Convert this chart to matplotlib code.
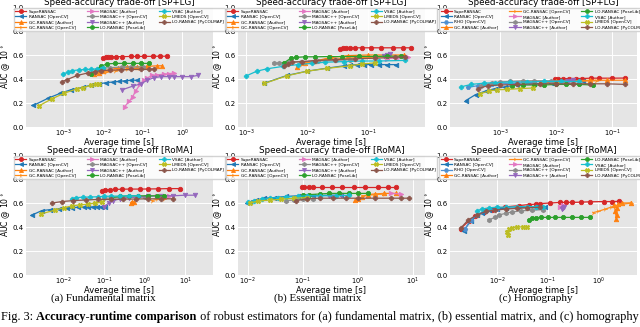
import matplotlib

matplotlib.use("Agg")
import matplotlib.pyplot as plt

# ---- data: per panel, method -> (time [s], AUC @ 10 deg) ----
fund_splg = {
    "SupeRANSAC": ([0.0100, 0.0114, 0.013, 0.0156, 0.0205, 0.030, 0.049, 0.073, 0.11, 0.18, 0.27, 0.40],
                   [0.578, 0.582, 0.584, 0.585, 0.586, 0.587, 0.588, 0.588, 0.589, 0.589, 0.59, 0.59]),
    "RANSAC [OpenCV]": ([0.00017, 0.0004, 0.0008, 0.0015, 0.003, 0.005, 0.008, 0.012, 0.018, 0.025, 0.035, 0.05, 0.07],
                        [0.18, 0.24, 0.28, 0.31, 0.33, 0.35, 0.36, 0.37, 0.375, 0.38, 0.385, 0.39, 0.39]),
    "GC-RANSAC [Author]": ([0.0058, 0.0078, 0.010, 0.015, 0.023, 0.04, 0.073, 0.13, 0.23, 0.30],
                           [0.445, 0.45, 0.465, 0.48, 0.49, 0.50, 0.50, 0.505, 0.51, 0.51]),
    "GC-RANSAC [OpenCV]": ([0.006, 0.008, 0.012, 0.02, 0.04, 0.08],
                           [0.44, 0.45, 0.46, 0.47, 0.48, 0.49]),
    "MAGSAC [Author]": ([0.035, 0.045, 0.055, 0.066, 0.085, 0.108, 0.13, 0.175, 0.23, 0.35, 0.46, 0.63],
                        [0.17, 0.215, 0.25, 0.30, 0.355, 0.39, 0.41, 0.43, 0.435, 0.44, 0.445, 0.45]),
    "MAGSAC++ [OpenCV]": ([0.008, 0.01, 0.015, 0.03, 0.05, 0.1],
                          [0.48, 0.49, 0.495, 0.50, 0.50, 0.50]),
    "MAGSAC++ [Author]": ([0.03, 0.055, 0.09, 0.13, 0.19, 0.29, 0.45, 0.63, 1.0, 1.65, 2.5],
                          [0.31, 0.34, 0.36, 0.39, 0.41, 0.42, 0.42, 0.42, 0.42, 0.42, 0.43]),
    "LO-RANSAC [PoseLib]": ([0.0048, 0.0086, 0.0126, 0.02, 0.033, 0.055, 0.09, 0.145],
                            [0.438, 0.507, 0.526, 0.53, 0.53, 0.53, 0.53, 0.53]),
    "VSAC [Author]": ([0.00096, 0.0013, 0.0016, 0.0024, 0.0035, 0.005, 0.007, 0.0085, 0.010],
                      [0.445, 0.455, 0.47, 0.475, 0.48, 0.48, 0.485, 0.485, 0.49]),
    "LMEDS [OpenCV]": ([0.00023, 0.0005, 0.001, 0.0022, 0.003, 0.005, 0.0065, 0.008],
                       [0.175, 0.235, 0.28, 0.32, 0.325, 0.35, 0.355, 0.36]),
    "LO-RANSAC [PyCOLMAP]": ([0.0009, 0.0012, 0.0022, 0.004, 0.006, 0.0085, 0.015, 0.028, 0.05, 0.09, 0.145, 0.19],
                             [0.377, 0.395, 0.43, 0.45, 0.46, 0.47, 0.474, 0.476, 0.48, 0.48, 0.48, 0.485]),
}

ess_splg = {
    "SupeRANSAC": ([0.035, 0.039, 0.044, 0.05, 0.06, 0.078, 0.113, 0.165, 0.25, 0.37, 0.5],
                   [0.65, 0.655, 0.66, 0.66, 0.66, 0.66, 0.66, 0.66, 0.66, 0.66, 0.66]),
    "RANSAC [OpenCV]": ([0.002, 0.0047, 0.01, 0.021, 0.04, 0.05, 0.065, 0.085, 0.11, 0.15, 0.2, 0.29],
                        [0.365, 0.43, 0.465, 0.49, 0.51, 0.515, 0.52, 0.52, 0.52, 0.52, 0.52, 0.52]),
    "GC-RANSAC [Author]": ([0.0069, 0.0094, 0.0136, 0.025, 0.047, 0.1, 0.21, 0.39],
                           [0.50, 0.535, 0.55, 0.58, 0.595, 0.60, 0.60, 0.60]),
    "GC-RANSAC [OpenCV]": ([0.008, 0.012, 0.02, 0.05, 0.1, 0.2],
                           [0.52, 0.545, 0.56, 0.575, 0.58, 0.585]),
    "MAGSAC [Author]": ([0.2, 0.3, 0.45], [0.57, 0.575, 0.58]),
    "MAGSAC++ [OpenCV]": ([0.0029, 0.0035, 0.005, 0.008, 0.015, 0.03, 0.05],
                          [0.53, 0.535, 0.54, 0.545, 0.55, 0.555, 0.56]),
    "MAGSAC++ [Author]": ([0.18, 0.2, 0.23], [0.59, 0.60, 0.605]),
    "LO-RANSAC [PoseLib]": ([0.0042, 0.0054, 0.0065, 0.0094, 0.0136, 0.0225, 0.037, 0.07, 0.13, 0.2, 0.35],
                            [0.535, 0.573, 0.58, 0.585, 0.585, 0.587, 0.587, 0.588, 0.588, 0.59, 0.59]),
    "VSAC [Author]": ([0.001, 0.0015, 0.0022, 0.004, 0.007, 0.012, 0.02, 0.04, 0.08, 0.15, 0.4],
                      [0.425, 0.465, 0.485, 0.505, 0.52, 0.53, 0.54, 0.545, 0.55, 0.55, 0.555]),
    "LMEDS [OpenCV]": ([0.002, 0.0047, 0.01, 0.021, 0.05, 0.08, 0.13],
                       [0.363, 0.427, 0.465, 0.488, 0.51, 0.525, 0.535]),
    "LO-RANSAC [PyCOLMAP]": ([0.0042, 0.0048, 0.0057, 0.0083, 0.0136, 0.029, 0.061, 0.128, 0.27, 0.4],
                             [0.507, 0.525, 0.54, 0.545, 0.554, 0.562, 0.568, 0.573, 0.58, 0.585]),
}

homo_splg = {
    "SupeRANSAC": ([0.0093, 0.0107, 0.013, 0.017, 0.022, 0.029, 0.041, 0.058, 0.1, 0.17],
                   [0.396, 0.402, 0.402, 0.404, 0.404, 0.404, 0.407, 0.407, 0.407, 0.408]),
    "RANSAC [OpenCV]": ([0.00024, 0.00036, 0.00055, 0.0008, 0.0012, 0.002, 0.004, 0.008, 0.015, 0.03],
                        [0.22, 0.27, 0.30, 0.32, 0.335, 0.35, 0.36, 0.37, 0.375, 0.38]),
    "RHO [OpenCV]": ([0.00026, 0.0004, 0.0007, 0.001, 0.002, 0.004],
                     [0.33, 0.345, 0.355, 0.36, 0.365, 0.37]),
    "GC-RANSAC [Author]": ([0.005, 0.01, 0.02, 0.04, 0.08, 0.17],
                           [0.37, 0.38, 0.385, 0.39, 0.39, 0.39]),
    "GC-RANSAC [OpenCV]": ([0.01, 0.02, 0.05], [0.37, 0.38, 0.385]),
    "MAGSAC [Author]": ([0.015, 0.02], [0.375, 0.38]),
    "MAGSAC++ [OpenCV]": ([0.00045, 0.0007, 0.001, 0.0015, 0.0025, 0.004, 0.008, 0.015, 0.02],
                          [0.345, 0.365, 0.375, 0.38, 0.385, 0.385, 0.385, 0.385, 0.385]),
    "MAGSAC++ [Author]": ([0.016, 0.02], [0.385, 0.39]),
    "LO-RANSAC [PoseLib]": ([0.0016, 0.0025, 0.004, 0.006, 0.01, 0.015, 0.025, 0.045],
                            [0.345, 0.35, 0.35, 0.35, 0.355, 0.355, 0.355, 0.35]),
    "VSAC [Author]": ([0.0002, 0.0003, 0.0005, 0.0008, 0.0015, 0.003, 0.006, 0.012, 0.025],
                      [0.335, 0.355, 0.365, 0.37, 0.375, 0.375, 0.38, 0.38, 0.38]),
    "LMEDS [OpenCV]": ([0.00044, 0.00062, 0.00087, 0.0013, 0.00225, 0.0039],
                       [0.277, 0.30, 0.31, 0.313, 0.32, 0.325]),
    "LO-RANSAC [PyCOLMAP]": ([0.0004, 0.0006, 0.001, 0.002, 0.005, 0.01, 0.02, 0.04, 0.08, 0.17],
                             [0.32, 0.345, 0.35, 0.355, 0.36, 0.36, 0.36, 0.36, 0.36, 0.355]),
}

fund_roma = {
    "SupeRANSAC": ([0.088, 0.107, 0.14, 0.19, 0.27, 0.44, 0.78, 1.24, 2.2, 3.9, 7.5],
                   [0.70, 0.71, 0.712, 0.713, 0.715, 0.716, 0.716, 0.717, 0.718, 0.72, 0.72]),
    "RANSAC [OpenCV]": ([0.00165, 0.0029, 0.0047, 0.0075, 0.012, 0.016, 0.023, 0.032, 0.041, 0.052, 0.066, 0.085, 0.107],
                        [0.50, 0.537, 0.545, 0.55, 0.556, 0.56, 0.565, 0.565, 0.567, 0.567, 0.567, 0.567, 0.567]),
    "GC-RANSAC [Author]": ([0.45, 0.5, 0.55], [0.60, 0.61, 0.605]),
    "GC-RANSAC [OpenCV]": ([1.5, 2.0, 3.0], [0.62, 0.63, 0.635]),
    "MAGSAC [Author]": ([2.0, 4.0], [0.655, 0.66]),
    "MAGSAC++ [OpenCV]": ([0.1, 0.3, 1.0], [0.64, 0.645, 0.65]),
    "MAGSAC++ [Author]": ([0.1, 0.13, 0.17, 0.25, 0.4, 0.7, 1.2, 2.5, 5.0, 10, 18],
                          [0.57, 0.60, 0.62, 0.635, 0.645, 0.65, 0.655, 0.66, 0.66, 0.665, 0.665]),
    "LO-RANSAC [PoseLib]": ([0.15, 0.25, 0.4, 0.7, 1.2, 2.0, 3.0],
                            [0.645, 0.655, 0.66, 0.66, 0.66, 0.66, 0.66]),
    "VSAC [Author]": ([0.016, 0.02, 0.03, 0.045, 0.07, 0.1, 0.15, 0.25, 0.4, 0.7],
                      [0.635, 0.645, 0.648, 0.65, 0.652, 0.655, 0.657, 0.658, 0.66, 0.66]),
    "LMEDS [OpenCV]": ([0.0028, 0.006, 0.01, 0.016, 0.025, 0.04, 0.06, 0.09],
                       [0.51, 0.54, 0.56, 0.575, 0.585, 0.59, 0.60, 0.605]),
    "LO-RANSAC [PyCOLMAP]": ([0.0052, 0.009, 0.017, 0.035, 0.07, 0.15, 0.3, 0.6, 1.2, 2.5, 5.0],
                             [0.60, 0.612, 0.62, 0.625, 0.63, 0.63, 0.632, 0.633, 0.635, 0.635, 0.635]),
}

ess_roma = {
    "SupeRANSAC": ([0.095, 0.105, 0.129, 0.155, 0.22, 0.34, 0.51, 0.83, 1.34, 2.35, 3.5, 5.0],
                   [0.735, 0.735, 0.735, 0.735, 0.735, 0.735, 0.735, 0.735, 0.735, 0.735, 0.735, 0.735]),
    "RANSAC [OpenCV]": ([0.0095, 0.011, 0.014, 0.02, 0.03, 0.05, 0.08, 0.15, 0.3, 0.5],
                        [0.60, 0.61, 0.625, 0.64, 0.645, 0.655, 0.66, 0.66, 0.665, 0.665]),
    "GC-RANSAC [Author]": ([0.9, 1.0, 1.2, 1.5, 2.0, 3.0, 5.0],
                           [0.625, 0.635, 0.65, 0.67, 0.675, 0.68, 0.68]),
    "GC-RANSAC [OpenCV]": ([1.2, 2.0, 3.0], [0.66, 0.67, 0.675]),
    "MAGSAC [Author]": ([4.0, 6.0], [0.68, 0.675]),
    "MAGSAC++ [OpenCV]": ([0.05, 0.07, 0.1, 0.15], [0.62, 0.625, 0.63, 0.635]),
    "MAGSAC++ [Author]": ([0.3, 0.5], [0.66, 0.665]),
    "LO-RANSAC [PoseLib]": ([0.1, 0.13, 0.2, 0.3, 0.45, 0.7, 1.0, 1.5],
                            [0.665, 0.67, 0.675, 0.68, 0.68, 0.68, 0.68, 0.68]),
    "VSAC [Author]": ([0.01, 0.013, 0.018, 0.025, 0.035, 0.05, 0.08, 0.12, 0.2, 0.4, 0.7],
                      [0.605, 0.615, 0.63, 0.64, 0.645, 0.65, 0.655, 0.66, 0.66, 0.66, 0.665]),
    "LMEDS [OpenCV]": ([0.011, 0.015, 0.025, 0.04, 0.07, 0.12],
                       [0.60, 0.615, 0.625, 0.63, 0.64, 0.645]),
    "LO-RANSAC [PyCOLMAP]": ([0.075, 0.12, 0.2, 0.35, 0.6, 1.0, 2.0, 4.0, 6.0, 8.5],
                             [0.62, 0.635, 0.64, 0.64, 0.64, 0.64, 0.64, 0.64, 0.64, 0.64]),
}

homo_roma = {
    "SupeRANSAC": ([0.0019, 0.00275, 0.0037, 0.0054, 0.008, 0.01, 0.0146, 0.027, 0.042, 0.058, 0.072, 0.114,
                    0.18, 0.23, 0.31, 0.45, 0.7, 1.3, 1.9, 2.65],
                   [0.386, 0.45, 0.49, 0.523, 0.545, 0.555, 0.567, 0.578, 0.587, 0.59, 0.595, 0.60,
                    0.605, 0.605, 0.605, 0.607, 0.61, 0.612, 0.612, 0.614]),
    "RANSAC [OpenCV]": ([0.0022, 0.003, 0.004, 0.005, 0.007, 0.01, 0.015, 0.025, 0.04, 0.06, 0.09],
                        [0.37, 0.45, 0.50, 0.52, 0.545, 0.55, 0.555, 0.56, 0.565, 0.565, 0.57]),
    "RHO [OpenCV]": ([0.0023, 0.003, 0.004, 0.006, 0.01], [0.38, 0.46, 0.50, 0.53, 0.55]),
    "GC-RANSAC [Author]": ([2.1, 2.2, 2.3, 2.35, 2.4, 2.5, 3.0, 4.5],
                           [0.58, 0.53, 0.47, 0.50, 0.56, 0.59, 0.60, 0.60]),
    "GC-RANSAC [OpenCV]": ([0.8, 1.0, 1.4, 1.8, 2.2, 2.6, 4.5],
                           [0.52, 0.53, 0.55, 0.565, 0.575, 0.585, 0.60]),
    "MAGSAC [Author]": ([0.18, 0.2], [0.57, 0.58]),
    "MAGSAC++ [OpenCV]": ([0.007, 0.009, 0.011, 0.015, 0.02, 0.03, 0.05, 0.08],
                          [0.46, 0.48, 0.50, 0.515, 0.525, 0.535, 0.54, 0.545]),
    "MAGSAC++ [Author]": ([0.19, 0.2, 0.21], [0.55, 0.56, 0.57]),
    "LO-RANSAC [PoseLib]": ([0.042, 0.05, 0.06, 0.075, 0.1, 0.14, 0.2, 0.3, 0.45, 0.7],
                            [0.46, 0.475, 0.478, 0.48, 0.48, 0.48, 0.48, 0.48, 0.48, 0.48]),
    "VSAC [Author]": ([0.004, 0.005, 0.007, 0.01, 0.015, 0.025, 0.04, 0.06, 0.08],
                      [0.535, 0.55, 0.56, 0.565, 0.565, 0.57, 0.57, 0.57, 0.565]),
    "LMEDS [OpenCV]": ([0.0155, 0.0165, 0.0175, 0.02, 0.025, 0.032, 0.04],
                       [0.36, 0.33, 0.385, 0.395, 0.40, 0.40, 0.40]),
    "LO-RANSAC [PyCOLMAP]": ([0.0019, 0.0027, 0.004, 0.006, 0.009, 0.015, 0.025, 0.04, 0.07],
                             [0.39, 0.46, 0.50, 0.53, 0.54, 0.55, 0.555, 0.56, 0.565]),
}

SUBCAPTIONS = ["(a) Fundamental matrix", "(b) Essential matrix", "(c) Homography"]
CAPTION = [("Fig. 3: ", "normal"), ("Accuracy-runtime comparison", "bold"),
           (" of robust estimators for (a) fundamental matrix, (b) essential matrix, and (c) homography", "normal")]

# ---- styling ----
STYLES = {
    "SupeRANSAC": ("#d62728", "o"),
    "RANSAC [OpenCV]": ("#1f77b4", "<"),
    "RHO [OpenCV]": ("#4f8fd0", "H"),
    "GC-RANSAC [Author]": ("#ff7f0e", "^"),
    "GC-RANSAC [OpenCV]": ("#ff8c1a", "4"),
    "MAGSAC [Author]": ("#e377c2", ">"),
    "MAGSAC++ [OpenCV]": ("#8c8c8c", "h"),
    "MAGSAC++ [Author]": ("#9467bd", "v"),
    "LO-RANSAC [PoseLib]": ("#2ca02c", "8"),
    "VSAC [Author]": ("#17becf", "P"),
    "LMEDS [OpenCV]": ("#bcbd22", "X"),
    "LO-RANSAC [PyCOLMAP]": ("#8c564b", "P"),
}

W, H = 640, 327
COL_X = [26, 238, 450]
AX_W = 187
ROWS = [(7, 127), (155, 275)]

panels = [
    (fund_splg, "SP+LG", (1.1e-4, 6.0), 0, 0),
    (ess_splg, "SP+LG", (7.4e-4, 0.85), 0, 1),
    (homo_splg, "SP+LG", (1.26e-4, 0.275), 0, 2),
    (fund_roma, "RoMA", (1.17e-3, 49), 1, 0),
    (ess_roma, "RoMA", (6.6e-3, 16.5), 1, 1),
    (homo_roma, "RoMA", (1.17e-3, 5.9), 1, 2),
]

fig = plt.figure(figsize=(W / 100, H / 100), dpi=100)

for data, tag, xlim, r, c in panels:
    top, bot = ROWS[r]
    ax = fig.add_axes([COL_X[c] / W, 1 - bot / H, AX_W / W, (bot - top) / H])
    ax.set_facecolor("#e5e5e5")
    for s in ax.spines.values():
        s.set_visible(False)
    ax.grid(True, color="white", lw=0.7)
    ax.set_axisbelow(True)
    for name, (t, a) in data.items():
        col, mk = STYLES[name]
        ax.plot(t, a, marker=mk, color=col, lw=0.9, ms=3.2, mew=0.6, label=name)
    ax.set_xscale("log")
    ax.set_xlim(*xlim)
    ax.set_ylim(0, 1.0)
    ax.set_yticks([0, 0.2, 0.4, 0.6, 0.8, 1.0])
    ax.tick_params(which="both", labelsize=5.0, length=0, pad=1.5)
    ax.tick_params(axis="x", labelsize=4.8, pad=0.2)
    ax.set_title(f"Speed-accuracy trade-off [{tag}]", fontsize=6.3, pad=1.5)
    ax.set_xlabel("Average time [s]", fontsize=6.0, labelpad=-0.6)
    ax.set_ylabel("AUC @ 10$^\\circ$", fontsize=5.6, labelpad=0.5)
    ax.legend(loc="upper center", ncol=3, fontsize=3.1, frameon=True, framealpha=0.85,
              facecolor="white", edgecolor="#cccccc", labelspacing=0.3, handlelength=2.6,
              handletextpad=0.5, columnspacing=2.6, borderpad=0.35, borderaxespad=0.25,
              markerscale=0.9)

serif = ["Liberation Serif", "DejaVu Serif"]
for cx, txt in zip([103, 318, 536], SUBCAPTIONS):
    fig.text(cx / W, 1 - 298 / H, txt, ha="center", va="center", fontsize=8, family=serif)

# caption line, bold part drawn as its own piece
renderer = fig.canvas.get_renderer()
x = 1 / W
for txt, weight in CAPTION:
    t = fig.text(x, 1 - 311 / H, txt, ha="left", va="top", fontsize=8.8, family=serif, fontweight=weight)
    bb = t.get_window_extent(renderer=renderer)
    x = fig.transFigure.inverted().transform((bb.x1, bb.y0))[0]

fig.savefig("out.png", dpi=100)
